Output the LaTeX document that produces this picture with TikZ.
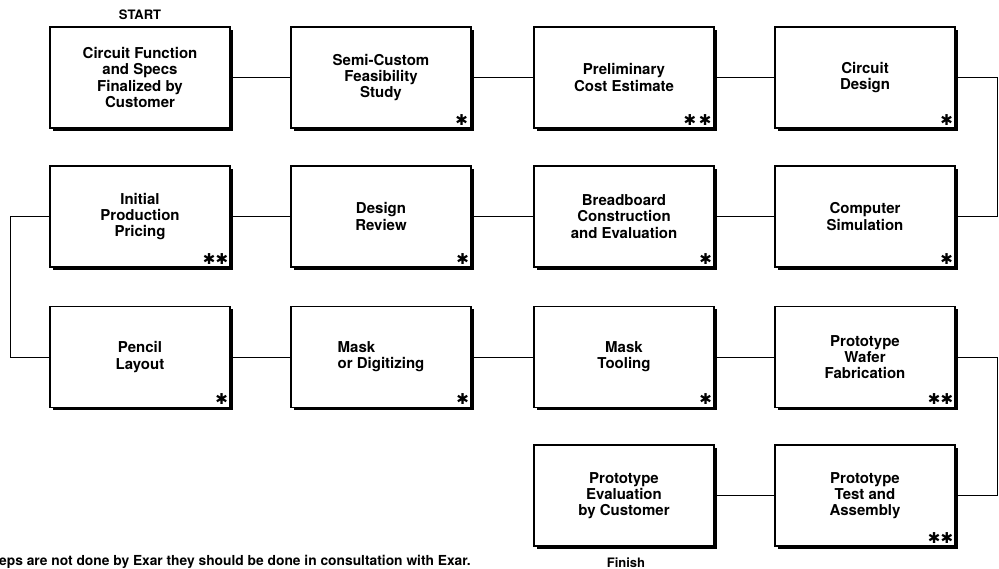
\documentclass[tikz,border=0pt]{standalone}
\usepackage{fontspec}
\setmainfont{TeX Gyre Heros}
\newfontfamily\symfont{DejaVu Sans}
\usetikzlibrary{shadows,calc}
\newcommand{\astk}{{\symfont\bfseries ✱}}
\begin{document}
\begin{tikzpicture}[x=1pt,y=-1pt,
  box/.style={draw, line width=1.1pt, fill=white, minimum width=180pt, minimum height=101pt,
    inner sep=0pt, align=center, font=\fontsize{15}{16.3}\selectfont\bfseries,
    drop shadow={shadow xshift=2.6pt, shadow yshift=-2.6pt, fill=black, opacity=1}},
  mark1/.style={font=\fontsize{15}{15}\selectfont, inner sep=0pt},
  wire/.style={line width=0.8pt},
  lbl/.style={font=\fontsize{13}{15}\selectfont\bfseries, inner sep=0pt}]
\fill[white] (0,0) rectangle (999,569);
\useasboundingbox (0,0) rectangle (999,569);
% row 1
\node[box] (n1) at (140,77.5) {Circuit Function\\and Specs\\Finalized by\\Customer};
\node[box] (n2) at (381,77.5) {Semi-Custom\\Feasibility\\Study};
\node[box] (n3) at (624,77.5) {Preliminary\\Cost Estimate};
\node[box] (n4) at (865,77.5) {Circuit\\Design};
% row 2
\node[box] (n5) at (865,216.5) {Computer\\Simulation};
\node[box] (n6) at (624,216.5) {Breadboard\\Construction\\and Evaluation};
\node[box] (n7) at (381,216.5) {Design\\Review};
\node[box] (n8) at (140,216.5) {Initial\\Production\\Pricing};
% row 3
\node[box] (n9) at (140,357) {Pencil\\Layout};
\node[box, align=left] (n10) at (381,357) {Mask\\ or Digitizing};
\node[box] (n11) at (624,357) {Mask\\Tooling};
\node[box] (n12) at (865,357) {Prototype\\Wafer\\Fabrication};
% row 4
\node[box] (n13) at (865,495.5) {Prototype\\Test and\\Assembly};
\node[box] (n14) at (624,495.5) {Prototype\\Evaluation\\by Customer};
% stars
\node[mark1] (s2) at ($(n2.south east)+(-10,-9)$) {\astk};
\node[mark1] (s3) at ($(n3.south east)+(-17,-9)$) {\astk\,\astk};
\node[mark1] (s4) at ($(n4.south east)+(-9,-9)$) {\astk};
\node[mark1] (s5) at ($(n5.south east)+(-9,-9)$) {\astk};
\node[mark1] (s6) at ($(n6.south east)+(-9,-9)$) {\astk};
\node[mark1] (s7) at ($(n7.south east)+(-9,-9)$) {\astk};
\node[mark1] (s8) at ($(n8.south east)+(-15,-9)$) {\astk\astk};
\node[mark1] (s9) at ($(n9.south east)+(-9,-9)$) {\astk};
\node[mark1] (s10) at ($(n10.south east)+(-9,-9)$) {\astk};
\node[mark1] (s11) at ($(n11.south east)+(-9,-9)$) {\astk};
\node[mark1] (s12) at ($(n12.south east)+(-15,-9)$) {\astk\astk};
\node[mark1] (s13) at ($(n13.south east)+(-15,-9)$) {\astk\astk};
% labels
\node[lbl, anchor=base] (start) at (140,20) {START};
\node[lbl, anchor=base] (finish) at (626,567) {Finish};
\node[lbl, anchor=base east, font=\fontsize{13.8}{15}\selectfont\bfseries] (note) at (471,565)
  {eps are not done by Exar they should be done in consultation with Exar.};
% connectors
\coordinate (r1) at (997,77.5);
\coordinate (r2) at (997,216.5);
\coordinate (l2) at (10,216.5);
\coordinate (l3) at (10,357);
\coordinate (r3) at (997,357);
\coordinate (r4) at (997,495.5);
\draw[wire] (n1) -- (n2);
\draw[wire] (n2) -- (n3);
\draw[wire] (n3) -- (n4);
\draw[wire] (n4.east) -- (r1) -- (r2) -- (n5.east);
\draw[wire] (n5) -- (n6);
\draw[wire] (n6) -- (n7);
\draw[wire] (n7) -- (n8);
\draw[wire] (n8.west) -- (l2) -- (l3) -- (n9.west);
\draw[wire] (n9) -- (n10);
\draw[wire] (n10) -- (n11);
\draw[wire] (n11) -- (n12);
\draw[wire] (n12.east) -- (r3) -- (r4) -- (n13.east);
\draw[wire] (n13) -- (n14);
\end{tikzpicture}
\end{document}
